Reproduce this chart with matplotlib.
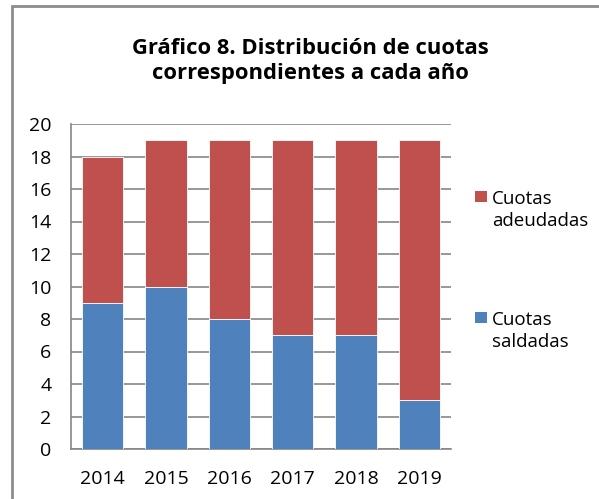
import matplotlib.pyplot as plt
from matplotlib.patches import Rectangle

# DATA
years = ["2014", "2015", "2016", "2017", "2018", "2019"]
saldadas = [9, 10, 8, 7, 7, 3]
adeudadas = [9, 9, 11, 12, 12, 16]
labels = ["Cuotas\nadeudadas", "Cuotas\nsaldadas"]

blue = "#4F81BD"
red = "#C0504D"
grid_col = "#868686"

plt.rcParams['font.family'] = ['Open Sans', 'DejaVu Sans']

fig = plt.figure(figsize=(5.99, 4.99), dpi=100)
ax = fig.add_axes([71 / 599, 1 - 449 / 499, 380 / 599, 325 / 499])

x = range(len(years))
ax.bar(x, saldadas, width=0.65, color=blue, edgecolor="white", linewidth=0.6, zorder=3)
ax.bar(x, adeudadas, width=0.65, bottom=saldadas, color=red, edgecolor="white",
       linewidth=0.6, zorder=3)

ax.set_xlim(-0.5, len(years) - 0.5)
ax.set_ylim(0, 20)
ax.set_yticks(range(0, 21, 2))
ax.set_xticks(list(x))
ax.set_xticklabels(years)
ax.tick_params(axis="both", length=0, labelsize=14, colors="black")
ax.tick_params(axis="y", pad=14)
ax.tick_params(axis="x", pad=15)
ax.yaxis.grid(True, color=grid_col, linewidth=1.2, zorder=0)
ax.set_axisbelow(True)
for s in ["top", "right"]:
    ax.spines[s].set_visible(False)
for s in ["left", "bottom"]:
    ax.spines[s].set_color(grid_col)
    ax.spines[s].set_linewidth(1.2)

fig.text(310 / 599, 1 - 61 / 499, "Gráfico 8. Distribución de cuotas\ncorrespondientes a cada año",
         ha="center", va="center", fontsize=15.8, fontweight="bold", linespacing=1.3)

# legend (drawn by hand so the marker sits on the first text line)
for col, lab, ytop in [(red, labels[0], 191), (blue, labels[1], 312)]:
    fig.patches.append(Rectangle((475 / 599, 1 - (ytop + 11) / 499), 12 / 599, 11 / 499,
                                 transform=fig.transFigure, facecolor=col, edgecolor="none"))
    fig.text(492 / 599, 1 - (ytop + 19) / 499, lab, ha="left", va="center",
             fontsize=13.5, linespacing=1.35)

# outer border
fig.patches.append(Rectangle((12 / 599, -0.1), 1.2, 1 - 6 / 499 + 0.1, transform=fig.transFigure,
                             fill=False, edgecolor="#8C8C8C", linewidth=2))

fig.savefig("out.png", dpi=100)
